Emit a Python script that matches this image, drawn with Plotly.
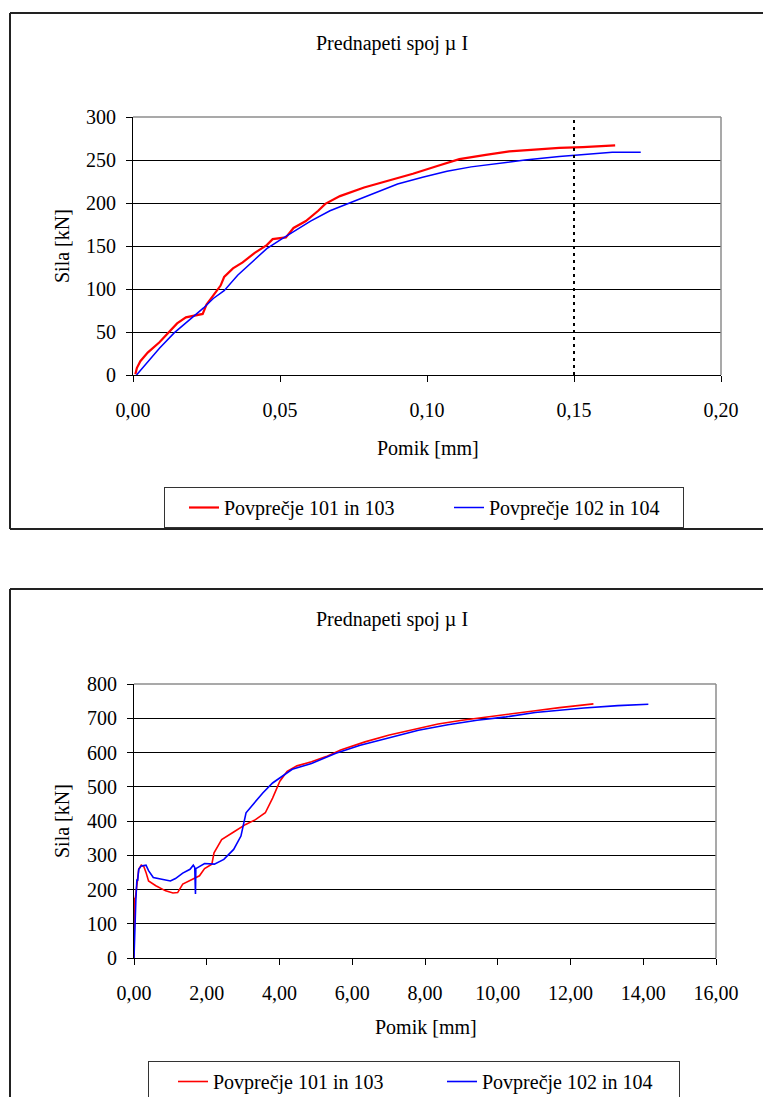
import plotly.graph_objects as go

W, H = 763, 1097

# ---------------- data ----------------
series_names = ["Povprečje 101 in 103", "Povprečje 102 in 104"]
chart_title = "Prednapeti spoj µ I"
x_title = "Pomik [mm]"
y_title = "Sila [kN]"

# top chart (small displacement range)
top_red_x = [0.0008, 0.0013, 0.0025, 0.005, 0.009, 0.0124, 0.015, 0.018, 0.0215, 0.0237,
             0.025, 0.0273, 0.0298, 0.031, 0.034, 0.0373, 0.0414, 0.0455, 0.0475, 0.052,
             0.0546, 0.0588, 0.063, 0.0654, 0.0704, 0.0786, 0.0869, 0.0952, 0.1035, 0.111,
             0.12, 0.128, 0.1366, 0.145, 0.153, 0.164]
top_red_y = [1, 8, 16, 26, 38, 50, 60, 67, 69, 71,
             82, 93, 104, 114, 124, 131, 142, 151, 158, 160,
             171, 179, 191, 199, 208, 218, 226, 234, 243, 251,
             256, 260, 262, 264, 265, 267]
top_blue_x = [0.0012, 0.0041, 0.009, 0.014, 0.019, 0.0215, 0.024, 0.0273, 0.031, 0.0356,
              0.0406, 0.0455, 0.0505, 0.0555, 0.0604, 0.067, 0.0737, 0.082, 0.090, 0.0985,
              0.1068, 0.115, 0.1233, 0.1333, 0.145, 0.153, 0.163, 0.1727]
top_blue_y = [0, 12, 31, 49, 63, 70, 78, 89, 98, 116,
              132, 147, 158, 169, 179, 191, 200, 212, 222, 230,
              237, 242, 246, 250, 254, 256, 259, 259]
top_limit_x = 0.15
top_x_range = [0, 0.20]
top_y_range = [0, 300]
top_x_step = 0.05
top_y_step = 50

# bottom chart (full displacement range)
bot_red_x = [0, 0.013, 0.04, 0.09, 0.13, 0.2, 0.27, 0.33, 0.4, 0.6,
             0.87, 1.07, 1.2, 1.34, 1.6, 1.8, 1.94, 2.14, 2.2, 2.41,
             2.74, 3.07, 3.34, 3.61, 3.81, 4.01, 4.21, 4.48, 4.88, 5.28,
             5.68, 6.35, 7.02, 7.69, 8.36, 9.02, 9.69, 10.36, 11.03, 11.7, 12.63]
bot_red_y = [0, 172, 177, 230, 259, 271, 267, 250, 225, 211,
             196, 190, 191, 216, 230, 240, 261, 274, 307, 346,
             368, 390, 404, 424, 467, 516, 545, 561, 573, 588,
             607, 631, 651, 668, 683, 694, 704, 714, 722, 731, 742]
bot_blue_x = [0, 0.03, 0.05, 0.08, 0.1, 0.13, 0.2, 0.33, 0.4, 0.53,
              0.74, 1.0, 1.14, 1.34, 1.54, 1.63, 1.67, 1.69, 1.7, 1.94,
              2.21, 2.47, 2.74, 2.94, 3.08, 3.27, 3.54, 3.81, 4.08, 4.35,
              4.88, 5.55, 6.22, 7.02, 7.82, 8.63, 9.43, 10.23, 11.03, 12.37, 13.3, 14.14]
bot_blue_y = [0, 133, 167, 230, 225, 259, 269, 271, 255, 235,
              230, 225, 232, 248, 259, 271, 264, 187, 261, 276,
              274, 288, 317, 356, 424, 448, 482, 511, 532, 551,
              568, 598, 621, 644, 665, 681, 694, 704, 717, 730, 737, 741]
bot_x_range = [0, 16]
bot_y_range = [0, 800]
bot_x_step = 2
bot_y_step = 100

RED = "#FF0000"
BLUE = "#0000FF"
FONT = "'Liberation Serif', 'Times New Roman', serif"


def px_x(p):
    return p / W


def px_y(p):
    return 1 - p / H


fig = go.Figure()

# ---- traces top ----
fig.add_trace(go.Scatter(x=top_red_x, y=top_red_y, mode="lines", name=series_names[0],
                         line=dict(color=RED, width=2.2), xaxis="x", yaxis="y",
                         legend="legend", legendwidth=201))
fig.add_trace(go.Scatter(x=top_blue_x, y=top_blue_y, mode="lines", name=series_names[1],
                         line=dict(color=BLUE, width=1.5), xaxis="x", yaxis="y",
                         legend="legend", legendwidth=189))
fig.add_trace(go.Scatter(x=[top_limit_x, top_limit_x], y=[top_y_range[0], top_y_range[1] * 0.99],
                         mode="lines", showlegend=False, hoverinfo="skip",
                         line=dict(color="black", width=2, dash="3px,4px"),
                         xaxis="x", yaxis="y"))

# ---- traces bottom ----
fig.add_trace(go.Scatter(x=bot_red_x, y=bot_red_y, mode="lines", name=series_names[0],
                         line=dict(color=RED, width=1.6), xaxis="x2", yaxis="y2",
                         legend="legend2", legendwidth=200))
fig.add_trace(go.Scatter(x=bot_blue_x, y=bot_blue_y, mode="lines", name=series_names[1],
                         line=dict(color=BLUE, width=1.6), xaxis="x2", yaxis="y2",
                         legend="legend2", legendwidth=192))

axis_common = dict(
    showline=True, linecolor="black", linewidth=1.2,
    ticks="outside", ticklen=6, tickcolor="black", tickwidth=1,
    tickfont=dict(family=FONT, size=20, color="black"),
    zeroline=False, fixedrange=True, automargin=False,
)

fig.update_layout(
    width=W, height=H,
    margin=dict(l=0, r=0, t=0, b=0, pad=0, autoexpand=False),
    paper_bgcolor="white", plot_bgcolor="white",
    separators=", ",
    font=dict(family=FONT, size=20, color="black"),
    xaxis=dict(domain=[px_x(133), px_x(721)], anchor="y", range=top_x_range,
               tick0=0, dtick=top_x_step, tickformat=".2f", showgrid=False,
               ticklabelstandoff=11, **axis_common),
    yaxis=dict(domain=[px_y(375), px_y(117)], anchor="x", range=top_y_range,
               tick0=0, dtick=top_y_step, showgrid=True, gridcolor="black", gridwidth=1,
               ticklabelstandoff=6, **axis_common),
    xaxis2=dict(domain=[px_x(134), px_x(716)], anchor="y2", range=bot_x_range,
                tick0=0, dtick=bot_x_step, tickformat=".2f", showgrid=False,
                ticklabelstandoff=11, **axis_common),
    yaxis2=dict(domain=[px_y(958), px_y(684)], anchor="x2", range=bot_y_range,
                tick0=0, dtick=bot_y_step, showgrid=True, gridcolor="black", gridwidth=1,
                ticklabelstandoff=6, **axis_common),
    legend=dict(orientation="h", x=px_x(164), xanchor="left", y=px_y(507.5), yanchor="middle",
                bordercolor="#333333", borderwidth=1, bgcolor="white",
                indentation=19, font=dict(family=FONT, size=20, color="black"),
                itemclick=False, itemdoubleclick=False),
    legend2=dict(orientation="h", x=px_x(148), xanchor="left", y=px_y(1061), yanchor="top",
                 bordercolor="#333333", borderwidth=1, bgcolor="white",
                 indentation=24, font=dict(family=FONT, size=20, color="black"),
                 itemclick=False, itemdoubleclick=False),
    showlegend=True,
)

shapes = []
# gray plot-area frame (top and right edges)
for xr, yr in (("x", "y"), ("x2", "y2")):
    shapes.append(dict(type="line", xref=xr + " domain", yref=yr + " domain",
                       x0=0, x1=1, y0=1, y1=1, layer="above",
                       line=dict(color="#8c8c8c", width=1.5)))
    shapes.append(dict(type="line", xref=xr + " domain", yref=yr + " domain",
                       x0=1, x1=1, y0=0, y1=1, layer="above",
                       line=dict(color="#8c8c8c", width=1.5)))
# outer chart frames (right edge lies outside the picture)
frame = dict(color="#222222", width=2)
shapes += [
    dict(type="line", xref="paper", yref="paper", x0=px_x(10), x1=1, y0=px_y(13), y1=px_y(13), line=frame),
    dict(type="line", xref="paper", yref="paper", x0=px_x(10), x1=1, y0=px_y(529), y1=px_y(529), line=frame),
    dict(type="line", xref="paper", yref="paper", x0=px_x(10), x1=px_x(10), y0=px_y(529), y1=px_y(13), line=frame),
    dict(type="line", xref="paper", yref="paper", x0=px_x(10), x1=1, y0=px_y(589), y1=px_y(589), line=frame),
    dict(type="line", xref="paper", yref="paper", x0=px_x(10), x1=px_x(10), y0=0, y1=px_y(589), line=frame),
]
fig.update_layout(shapes=shapes)

ann = []
for cy, xt_y, xt_x, yt_y in ((44, 448, 428, 246), (619, 1027, 426, 821)):
    ann.append(dict(text=chart_title, xref="paper", yref="paper", x=px_x(392), y=px_y(cy),
                    xanchor="center", yanchor="middle", showarrow=False,
                    font=dict(family=FONT, size=20, color="black")))
    ann.append(dict(text=x_title, xref="paper", yref="paper", x=px_x(xt_x), y=px_y(xt_y),
                    xanchor="center", yanchor="middle", showarrow=False,
                    font=dict(family=FONT, size=20, color="black")))
    ann.append(dict(text=y_title, xref="paper", yref="paper", x=px_x(62), y=px_y(yt_y),
                    xanchor="center", yanchor="middle", showarrow=False, textangle=-90,
                    font=dict(family=FONT, size=20, color="black")))
fig.update_layout(annotations=ann)

fig.write_html("out.html", config={"displayModeBar": False})
